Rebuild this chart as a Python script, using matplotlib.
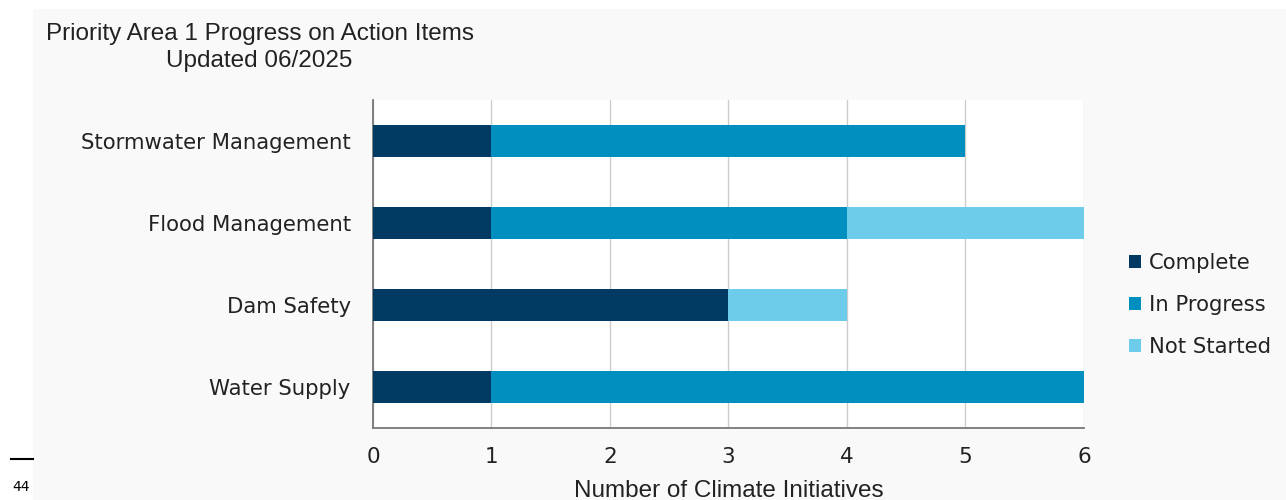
import matplotlib.pyplot as plt
from matplotlib.patches import Rectangle

categories = ["Stormwater Management", "Flood Management", "Dam Safety", "Water Supply"]
complete = [1, 1, 3, 1]
in_progress = [4, 3, 0, 5]
not_started = [0, 2, 1, 0]

colors = ["#003a63", "#008fbe", "#6cccea"]
labels = ["Complete", "In Progress", "Not Started"]

fig = plt.figure(figsize=(12.86, 5), dpi=100)
fig.patch.set_facecolor("white")

# light grey panel behind the chart
fig.patches.append(Rectangle((33 / 1286, 0), 1 - 33 / 1286, 1 - 9 / 500,
                             transform=fig.transFigure, facecolor="#f9f9f9",
                             edgecolor="none", zorder=-5))

ax = fig.add_axes([373 / 1286, 1 - 428 / 500, (1084 - 373) / 1286, (428 - 100) / 500])
ax.set_facecolor("white")

y = list(range(len(categories)))
h = 0.39
left = [0] * len(categories)
for vals, c, lab in zip([complete, in_progress, not_started], colors, labels):
    ax.barh(y, vals, left=left, height=h, color=c, label=lab, zorder=3)
    left = [a + b for a, b in zip(left, vals)]

ax.set_ylim(3.5, -0.5)
ax.set_xlim(0, 6)
ax.set_yticks(y)
ax.set_yticklabels(categories, fontsize=15.3, color="#222222", family="DejaVu Sans")
ax.set_xticks(range(7))
ax.set_xticklabels([str(i) for i in range(7)], fontsize=15.5, color="#222222", family="DejaVu Sans")
ax.tick_params(axis="y", length=0, pad=16)
ax.tick_params(axis="x", length=0, pad=14)
ax.xaxis.grid(True, color="#cccccc", linewidth=1, zorder=0)
for s in ["top", "right"]:
    ax.spines[s].set_visible(False)
ax.spines["left"].set_color("#777777")
ax.spines["bottom"].set_color("#777777")
ax.spines["left"].set_linewidth(1.3)
ax.spines["bottom"].set_linewidth(1.3)

ax.set_xlabel("Number of Climate Initiatives", fontsize=17.5, family="Liberation Sans",
              color="#222222", labelpad=9)

fig.text(259.5 / 1286, 1 - 34 / 500, "Priority Area 1 Progress on Action Items",
         ha="center", va="center", fontsize=17.5, family="Liberation Sans", color="#222222")
fig.text(259.5 / 1286, 1 - 61 / 500, "Updated 06/2025",
         ha="center", va="center", fontsize=17.5, family="Liberation Sans", color="#222222")

leg = ax.legend(loc="center left", bbox_to_anchor=(1.037, 0.5 - (305 - 264) / 328),
                frameon=False, handlelength=0.56, handleheight=0.56,
                handletextpad=0.38, labelspacing=1.03, prop={"family": "DejaVu Sans", "size": 15.2})
for t in leg.get_texts():
    t.set_color("#222222")

# page number artifact
fig.add_artist(plt.Line2D([11 / 1286, 33 / 1286], [1 - 459 / 500, 1 - 459 / 500],
                          transform=fig.transFigure, color="black", linewidth=1.5))
fig.text(12 / 1286, 1 - 487 / 500, "44", fontsize=10, va="center", family="DejaVu Sans")

fig.savefig("out.png", dpi=100)
